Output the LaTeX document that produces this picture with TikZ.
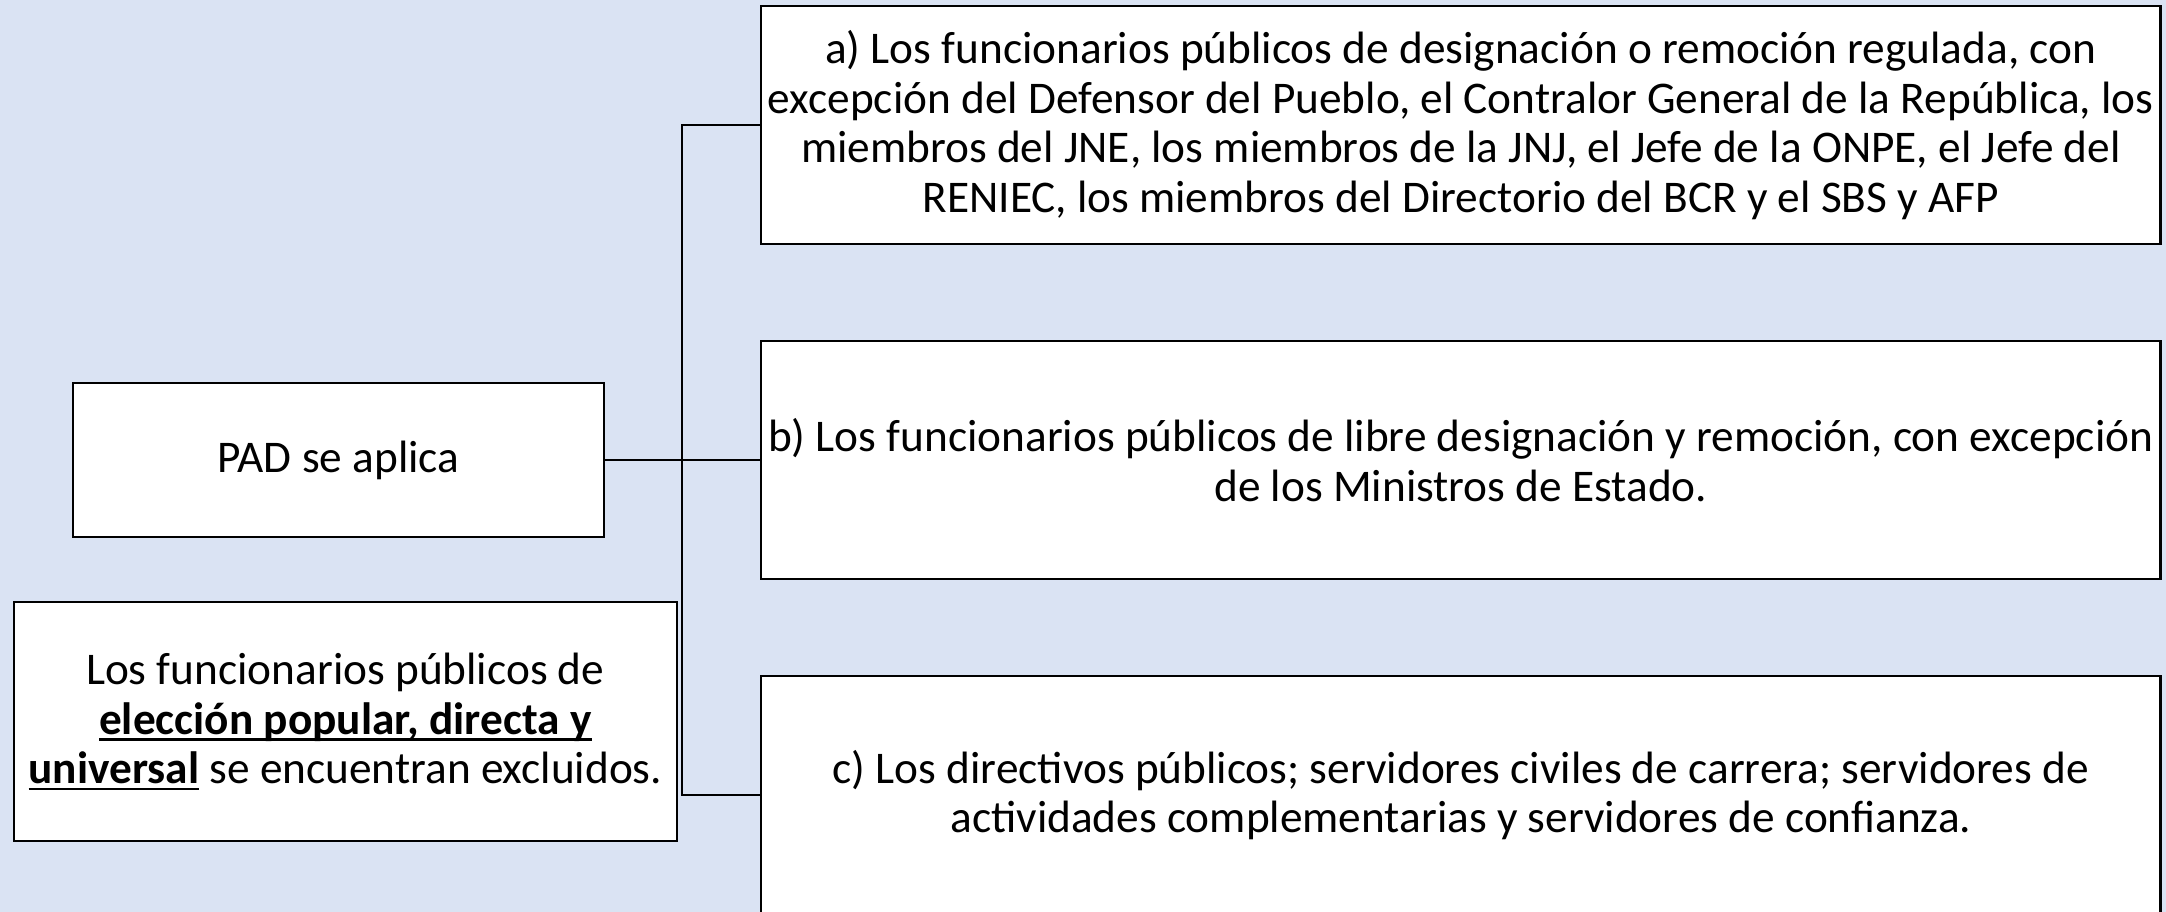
\documentclass[tikz,border=0pt]{standalone}
\usepackage{fontspec}
\setmainfont{Carlito}
\usetikzlibrary{positioning}
\definecolor{fondo}{RGB}{218,227,243}
\newcommand\subrayado[1]{\setbox0\hbox{#1}\rlap{\rule[-2.4pt]{\wd0}{0.9pt}}\box0\relax}
\tikzset{
  caja/.style={draw, line width=0.75pt, fill=white, align=center, inner sep=1pt,
    font=\fontsize{16.4}{17.9}\selectfont},
  cajaancha/.style={caja, minimum width=506.5pt, minimum height=86pt},
  enlace/.style={draw, line width=0.75pt},
}
\begin{document}
\begin{tikzpicture}[x=0.5pt,y=0.5pt,node distance=34.5pt]
    \fill[fondo] (0,0) rectangle (1568,660);
    \useasboundingbox (0,0) rectangle (1568,660);
    \node[cajaancha](a) at (1057.5,569.5){a) Los funcionarios públicos de designación o remoción regulada, con\\
        excepción del Defensor del Pueblo, el Contralor General de la República, los\\
        miembros del JNE, los miembros de la JNJ, el Jefe de la ONPE, el Jefe del\\
        RENIEC, los miembros del Directorio del BCR y el SBS y AFP};
    \node[cajaancha](b)[below=of a]{b) Los funcionarios públicos de libre designación y remoción, con excepción\\
        de los Ministros de Estado.};
    \node[cajaancha](c)[below=of b]{c) Los directivos públicos; servidores civiles de carrera; servidores de\\
        actividades complementarias y servidores de confianza.};
    \node[caja, minimum width=192pt, minimum height=56pt](pad) at (b.west -| 245,0){PAD se aplica};
    \node[caja, minimum width=240pt, minimum height=86.5pt](excl) at (250,137.5){Los funcionarios públicos de\\
        \subrayado{\textbf{elección popular, directa y}}\\
        \subrayado{\textbf{universal}} se encuentran excluidos.};
    \coordinate (trunk) at (494,0);
    \path[enlace] (a.west) -- (a.west -| trunk) -- (c.west -| trunk) -- (c.west);
    \path[enlace] (pad.east) -- (b.west);
\end{tikzpicture}
\end{document}
